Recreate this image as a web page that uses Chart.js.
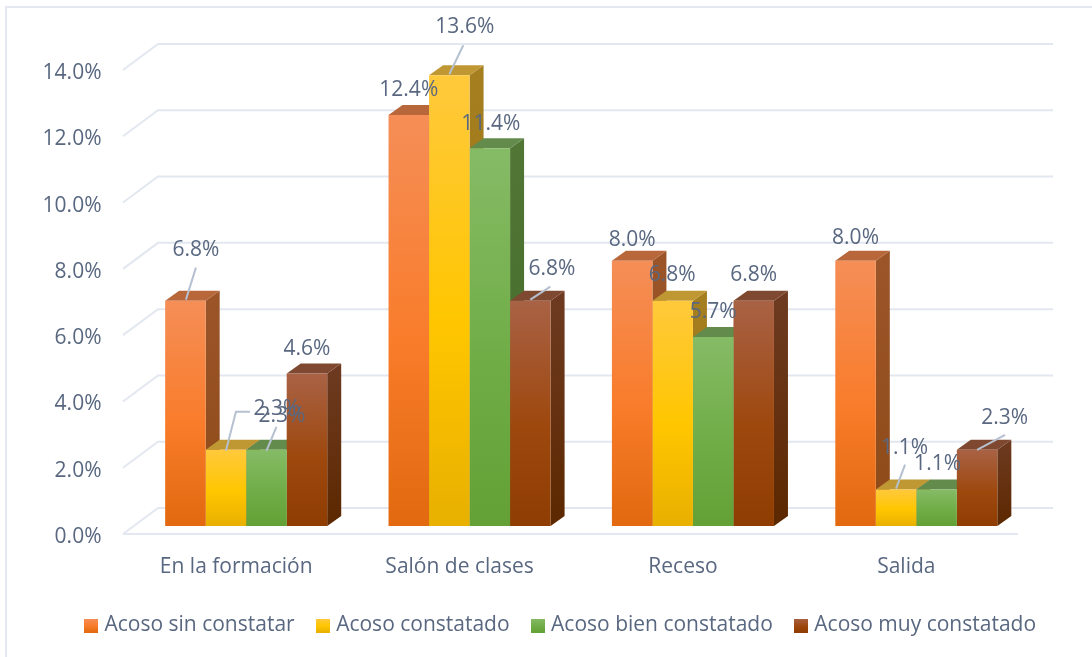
<!DOCTYPE html>
<html>
<head>
<meta charset="utf-8">
<style>
  html, body { margin: 0; padding: 0; background: #fff; overflow: hidden; }
  #wrap { position: relative; width: 1092px; height: 657px; overflow: hidden; }
  #frame { position: absolute; left: 5px; top: 6px; width: 1100px; height: 700px; border: 2px solid #e3e8f1; }
  canvas { position: absolute; left: 0; top: 0; }
</style>
<script src="https://cdn.jsdelivr.net/npm/chart.js@4"></script>
</head>
<body>
<div id="wrap">
  <div id="frame"></div>
  <canvas id="chart" width="1092" height="657"></canvas>
</div>
<script>
const categories = ['En la formación', 'Salón de clases', 'Receso', 'Salida'];
const seriesNames = ['Acoso sin constatar', 'Acoso constatado', 'Acoso bien constatado', 'Acoso muy constatado'];
const sinConstatar = [6.8, 12.4, 8.0, 8.0];
const constatado = [2.3, 13.6, 6.8, 1.1];
const bienConstatado = [2.3, 11.4, 5.7, 1.1];
const muyConstatado = [4.6, 6.8, 6.8, 2.3];
const yTicks = [0, 2, 4, 6, 8, 10, 12, 14];

// Colours per series: front (top, middle, bottom), top face, side (top, bottom)
const palette = [
    { front: ['#f58e57', '#f97c2a', '#e2690f'], top: '#b8673b', side: ['#9b5529', '#8f4a18'] },
    { front: ['#ffc93c', '#ffc600', '#e8b000'], top: '#bf9733', side: ['#a67f20', '#8f6d10'] },
    { front: ['#86bb66', '#70ad47', '#63a035'], top: '#638b4c', side: ['#517636', '#426a28'] },
    { front: ['#a96245', '#9e480e', '#8f3d02'], top: '#7f4830', side: ['#6e3b22', '#5c2800'] }
];

const textColor = '#596880';
const fontFamily = "'Open Sans', sans-serif";

// Fake depth of the 3D look
const barDepth = { x: 14, y: 10 };
const wallBack = { x: 158, y: -18, right: 1053 };
const wallFront = { x: 123, y: 8, right: 1018 };
const legendShift = 48;

// Where each value label sits relative to the top centre of its bar [dx, dy]
const labelOffsets = [
    [[10.5, -51], [0, -25], [0, -21], [0, -23]],
    [[51, -41], [15.5, -48], [-0.5, -26], [8.5, -42]],
    [[15.5, -34], [1, -24], [0, -25], [1, -26]],
    [[0, -25], [21.5, -32], [0, -26], [27.5, -32]]
];

// Leader lines, dataset / category / points relative to the top centre of the bar
const leaders = [
    [0, 0, [[0.5, -1], [10.5, -33]]],
    [1, 0, [[0, 1], [10, -38], [24, -38]]],
    [2, 0, [[0, 1], [10, -23]]],
    [1, 1, [[0, -1], [14, -30]]],
    [3, 1, [[0, -1], [20, -14]]],
    [1, 3, [[0, -1], [9, -25]]],
    [3, 3, [[0, 0], [28, -15]]]
];

function frontFill(c, s) {
    const p = palette[s].front;
    const chart = c.chart;
    if (!chart.chartArea || c.raw === undefined) return p[1];
    const y = chart.scales.y;
    const g = chart.ctx.createLinearGradient(0, y.getPixelForValue(c.raw), 0, y.getPixelForValue(0));
    g.addColorStop(0, p[0]);
    g.addColorStop(0.55, p[1]);
    g.addColorStop(1, p[2]);
    return g;
}

function legendSwatch(s) {
    const cv = document.createElement('canvas');
    cv.width = 14;
    cv.height = 14;
    const cx = cv.getContext('2d');
    const g = cx.createLinearGradient(0, 0, 0, 14);
    g.addColorStop(0, palette[s].front[0]);
    g.addColorStop(0.55, palette[s].front[1]);
    g.addColorStop(1, palette[s].front[2]);
    cx.fillStyle = g;
    cx.fillRect(0, 0, 14, 14);
    return cv;
}

function poly(ctx, pts, fill) {
    ctx.beginPath();
    pts.forEach((p, i) => i ? ctx.lineTo(p[0], p[1]) : ctx.moveTo(p[0], p[1]));
    ctx.closePath();
    ctx.fillStyle = fill;
    ctx.fill();
}

// Back wall, floor and the top/side faces go under the bars, labels over them
const depthPlugin = {
    id: 'depth',
    afterLayout(chart) {
        chart.legend.left += legendShift;
        chart.legend.right += legendShift;
    },
    beforeDatasetsDraw(chart) {
        const ctx = chart.ctx;
        const y = chart.scales.y;
        ctx.save();
        ctx.strokeStyle = '#e3e7f0';
        ctx.lineWidth = 2;
        yTicks.forEach(t => {
            const py = y.getPixelForValue(t);
            ctx.beginPath();
            ctx.moveTo(wallFront.x, py + wallFront.y);
            ctx.lineTo(wallBack.x, py + wallBack.y);
            ctx.lineTo(wallBack.right, py + wallBack.y);
            if (t === 0) {
                ctx.moveTo(wallFront.x, py + wallFront.y);
                ctx.lineTo(wallFront.right, py + wallFront.y);
            }
            ctx.stroke();
        });
        chart.data.datasets.forEach((ds, s) => {
            chart.getDatasetMeta(s).data.forEach(bar => {
                const l = bar.x - bar.width / 2;
                const r = bar.x + bar.width / 2;
                const d = barDepth;
                const g = ctx.createLinearGradient(0, bar.y - d.y, 0, bar.base);
                g.addColorStop(0, palette[s].side[0]);
                g.addColorStop(1, palette[s].side[1]);
                poly(ctx, [[r, bar.y], [r + d.x, bar.y - d.y], [r + d.x, bar.base - d.y], [r, bar.base]], g);
                poly(ctx, [[l, bar.y], [l + d.x, bar.y - d.y], [r + d.x, bar.y - d.y], [r, bar.y]], palette[s].top);
            });
        });
        ctx.restore();
    },
    afterDatasetsDraw(chart) {
        const ctx = chart.ctx;
        ctx.save();
        ctx.strokeStyle = '#b5c0d0';
        ctx.lineWidth = 2;
        leaders.forEach(([s, i, pts]) => {
            const bar = chart.getDatasetMeta(s).data[i];
            ctx.beginPath();
            pts.forEach((p, k) => {
                if (k) ctx.lineTo(bar.x + p[0], bar.y + p[1]);
                else ctx.moveTo(bar.x + p[0], bar.y + p[1]);
            });
            ctx.stroke();
        });
        ctx.font = '21px ' + fontFamily;
        ctx.fillStyle = textColor;
        ctx.textAlign = 'center';
        ctx.textBaseline = 'middle';
        chart.data.datasets.forEach((ds, s) => {
            chart.getDatasetMeta(s).data.forEach((bar, i) => {
                const o = labelOffsets[s][i];
                ctx.fillText(ds.data[i].toFixed(1) + '%', bar.x + o[0], bar.y + o[1]);
            });
        });
        ctx.restore();
    }
};

const seriesValues = [sinConstatar, constatado, bienConstatado, muyConstatado];

new Chart(document.getElementById('chart').getContext('2d'), {
    type: 'bar',
    data: {
        labels: categories,
        datasets: seriesValues.map((values, s) => ({
            label: seriesNames[s],
            data: values,
            backgroundColor: c => frontFill(c, s),
            borderWidth: 0,
            categoryPercentage: 0.7255,
            barPercentage: 1
        }))
    },
    plugins: [depthPlugin],
    options: {
        responsive: false,
        animation: false,
        layout: { padding: { left: 0, right: 64, top: 62, bottom: 11 } },
        plugins: {
            tooltip: { enabled: false },
            legend: {
                position: 'bottom',
                labels: {
                    usePointStyle: true,
                    boxWidth: 6,
                    boxHeight: 14,
                    padding: 25,
                    color: textColor,
                    font: { size: 21, family: fontFamily },
                    generateLabels(chart) {
                        return Chart.defaults.plugins.legend.labels.generateLabels(chart).map((item, s) => {
                            item.pointStyle = legendSwatch(s);
                            return item;
                        });
                    }
                }
            }
        },
        scales: {
            x: {
                grid: { display: false },
                border: { display: false },
                afterFit(scale) { scale.height = 64; },
                ticks: {
                    color: textColor,
                    font: { size: 21, family: fontFamily },
                    padding: 20,
                    labelOffset: -10,
                    maxRotation: 0
                }
            },
            y: {
                min: 0,
                max: 14,
                grid: { display: false },
                border: { display: false },
                afterFit(scale) { scale.width = 134.5; },
                afterBuildTicks(scale) { scale.ticks = yTicks.map(v => ({ value: v })); },
                ticks: {
                    color: textColor,
                    font: { size: 21, family: fontFamily },
                    padding: 25,
                    labelOffset: 11,
                    callback: v => v.toFixed(1) + '%'
                }
            }
        }
    }
});
</script>
</body>
</html>
